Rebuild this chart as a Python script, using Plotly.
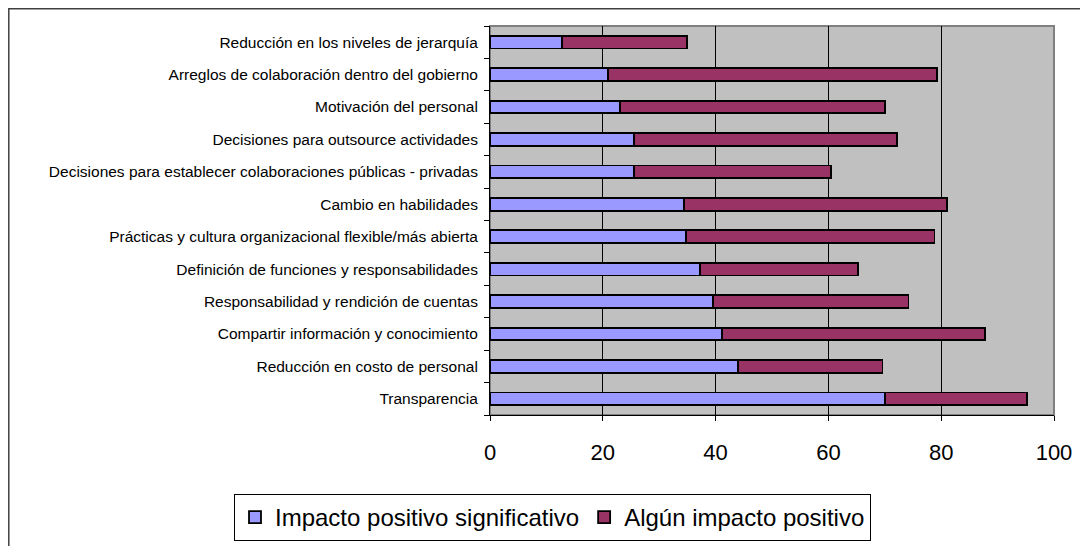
import plotly.graph_objects as go

# Categories listed bottom-to-top (as in the source chart)
categories = [
    "Transparencia",
    "Reducción en costo de personal",
    "Compartir información y conocimiento",
    "Responsabilidad y rendición de cuentas",
    "Definición de funciones y responsabilidades",
    "Prácticas y cultura organizacional flexible/más abierta",
    "Cambio en habilidades",
    "Decisiones para establecer colaboraciones públicas - privadas",
    "Decisiones para outsource actividades",
    "Motivación del personal",
    "Arreglos de colaboración dentro del gobierno",
    "Reducción en los niveles de jerarquía",
]
impacto_significativo = [70.0, 44.0, 41.2, 39.5, 37.2, 34.8, 34.4, 25.6, 25.6, 23.1, 20.9, 12.8]
algun_impacto = [25.2, 25.6, 46.5, 34.7, 28.1, 44.0, 46.6, 34.9, 46.5, 46.9, 58.4, 22.1]
series_names = ["Impacto positivo significativo", "Algún impacto positivo"]
x_ticks = [0, 20, 40, 60, 80, 100]

FONT = "Liberation Sans, Arial, sans-serif"

fig = go.Figure()
fig.add_trace(go.Bar(
    y=categories, x=impacto_significativo, orientation="h", name=series_names[0],
    marker=dict(color="#9999FF", line=dict(color="#000000", width=1.8)),
))
fig.add_trace(go.Bar(
    y=categories, x=algun_impacto, orientation="h", name=series_names[1],
    marker=dict(color="#993366", line=dict(color="#000000", width=1.8)),
))

# page body has an 8px margin, so work in figure coords = reference coords - 8
OFF = 8
W, H = 1088 - OFF, 546 - OFF
L = 490 - OFF
R = W - (1054 - OFF)
T = 26 - OFF
B = H - (415 - OFF)
pw, ph = W - L - R, H - T - B

def px(xp):
    return (xp - OFF - L) / pw

def py(yp):
    return (H - B - (yp - OFF)) / ph

fig.update_layout(
    width=W, height=H,
    barmode="stack",
    bargap=0.61,
    paper_bgcolor="white",
    plot_bgcolor="#C0C0C0",
    margin=dict(l=L, r=R, t=T, b=B, pad=0, autoexpand=False),
    font=dict(family=FONT, color="black"),
    showlegend=True,
    legend=dict(
        orientation="h",
        x=px(234), xanchor="left",
        y=py(494), yanchor="top",
        bgcolor="white",
        bordercolor="black", borderwidth=1,
        font=dict(size=24, family=FONT, color="black"),
        traceorder="normal",
        itemwidth=30,
        tracegroupgap=0,
    ),
    shapes=[
        dict(type="rect", xref="paper", yref="paper",
             x0=0, x1=1, y0=0, y1=1,
             line=dict(color="#808080", width=2), layer="below"),
        dict(type="rect", xref="paper", yref="paper",
             x0=(0.8 - L) / pw, x1=px(1100), y0=py(560), y1=(H - B - 0.8) / ph,
             line=dict(color="#404040", width=1.5)),
    ],
)

fig.update_xaxes(
    range=[0, 100], tickvals=x_ticks, ticktext=[str(v) for v in x_ticks],
    showgrid=True, gridcolor="black", gridwidth=1,
    showline=True, linecolor="black", linewidth=1,
    ticks="outside", ticklen=5, tickcolor="black",
    tickfont=dict(size=22, family=FONT, color="black"),
    ticklabelstandoff=13,
    zeroline=False, fixedrange=True,
)
fig.update_yaxes(
    type="category",
    showgrid=False,
    showline=True, linecolor="black", linewidth=1,
    ticks="outside", ticklen=5, tickcolor="black", tickson="boundaries",
    tickfont=dict(size=15.5, family=FONT, color="black"),
    ticklabelstandoff=8,
    fixedrange=True,
)

fig.write_html("out.html")
